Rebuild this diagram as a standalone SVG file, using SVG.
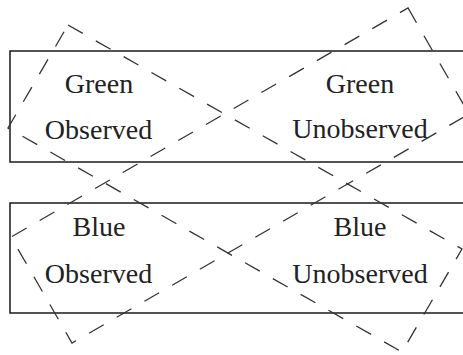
<svg xmlns="http://www.w3.org/2000/svg" width="463" height="355" viewBox="0 0 463 355">
<style>
.box{fill:none;stroke:#1a1a1a;stroke-width:1.5}
.dash{fill:none;stroke:#333;stroke-width:1.3;stroke-dasharray:17 15}
text{font-family:"Liberation Serif","Times New Roman",serif;font-size:28px;fill:#222;text-anchor:middle}
</style>
<rect width="463" height="355" fill="#fff"/>
<g id="greenRow">
<rect class="box" x="10" y="51" width="460" height="111"/>
</g>
<g id="blueRow">
<rect class="box" x="10" y="203" width="460" height="110"/>
</g>
<g id="greenObserved"><text x="99" y="93">Green</text><text x="98.5" y="139">Observed</text></g>
<g id="greenUnobserved"><text x="360" y="93">Green</text><text x="360" y="138">Unobserved</text></g>
<g id="blueObserved"><text x="99" y="236">Blue</text><text x="98.5" y="283">Observed</text></g>
<g id="blueUnobserved"><text x="360" y="236">Blue</text><text x="360" y="283">Unobserved</text></g>
<g id="connectors">
<path id="observedGroup" class="dash" d="M68,25 L462,249 L402,352 L8,128 Z"/>
<path id="unobservedGroup" class="dash" d="M408,8 L469,114 L72,343 L11,237 Z"/>
</g>
</svg>
